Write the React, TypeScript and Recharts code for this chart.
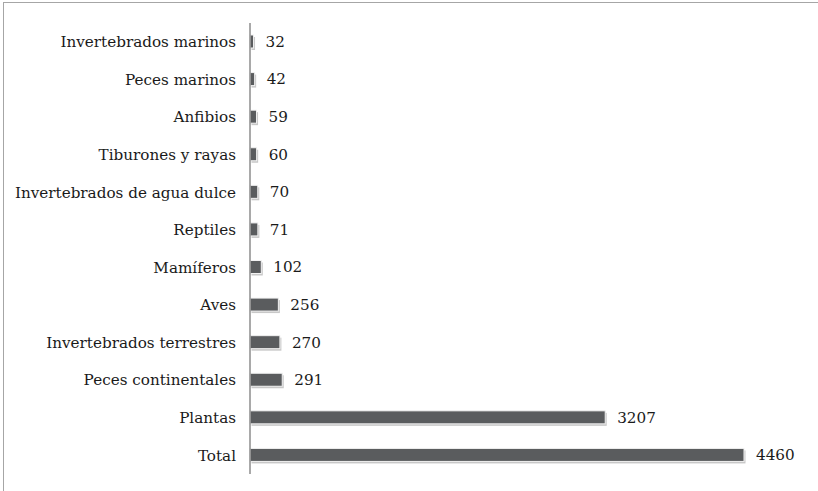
import React from 'react';
import { BarChart, Bar, XAxis, YAxis, LabelList } from 'recharts';

const categories = [
  'Invertebrados marinos',
  'Peces marinos',
  'Anfibios',
  'Tiburones y rayas',
  'Invertebrados de agua dulce',
  'Reptiles',
  'Mamíferos',
  'Aves',
  'Invertebrados terrestres',
  'Peces continentales',
  'Plantas',
  'Total',
];
const counts = [32, 42, 59, 60, 70, 71, 102, 256, 270, 291, 3207, 4460];

const data = categories.map((name, i) => ({ name, value: counts[i] }));

const FONT = '"DejaVu Serif", serif';

// bar with the soft grey shadow seen in the original
const ShadowBar = (props: any) => {
  const { x, y, width, height } = props;
  if (!width || width <= 0) return null;
  return (
    <g>
      <rect x={x + 1.5} y={y + 2} width={width} height={height} fill="#c8c8c8" />
      <rect x={x} y={y} width={width} height={height} fill="#5a5c5e" stroke="#f2f2f2" strokeWidth={1} />
    </g>
  );
};

const App: React.FC = () => {
  return (
    <div style={{ position: 'absolute', left: 0, top: 0, width: 818, height: 491, background: '#fff' }}>
      <div
        style={{
          position: 'absolute',
          left: 3,
          top: 2,
          right: 0,
          bottom: 0,
          borderTop: '1.5px solid #a6a6a6',
          borderLeft: '1.5px solid #a6a6a6',
        }}
      />
      <BarChart
        layout="vertical"
        width={818}
        height={491}
        data={data}
        margin={{ top: 23, right: 74, bottom: 17, left: 0 }}
        style={{ position: 'absolute', left: 0, top: 0 }}
      >
        <XAxis type="number" domain={[0, 4460]} hide />
        <YAxis
          type="category"
          dataKey="name"
          width={250}
          axisLine={{ stroke: '#8c8c8c', strokeWidth: 1.5 }}
          tickLine={false}
          tickSize={0}
          tickMargin={14}
          interval={0}
          tick={{ fill: '#1a1a1a', fontSize: 15.2, fontFamily: FONT }}
        />
        <Bar dataKey="value" barSize={13} shape={<ShadowBar />} isAnimationActive={false}>
          <LabelList
            dataKey="value"
            position="right"
            offset={12}
            fill="#1a1a1a"
            fontSize={15.2}
            fontFamily={FONT}
          />
        </Bar>
      </BarChart>
    </div>
  );
};

export default App;
